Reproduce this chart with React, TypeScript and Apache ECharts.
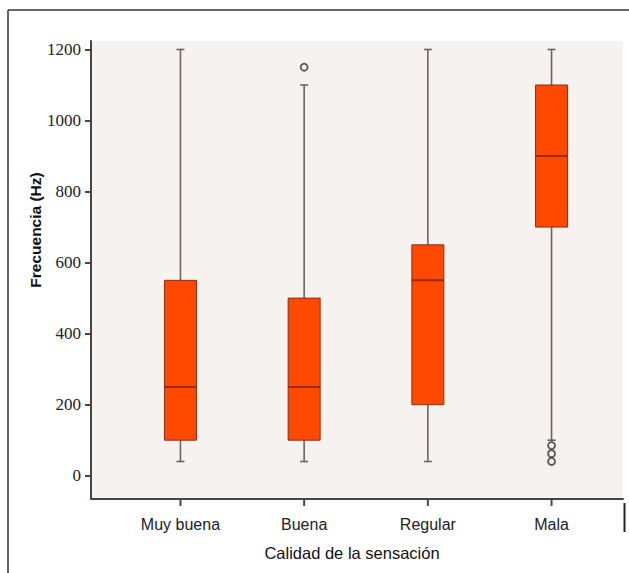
import React, { useEffect, useRef } from "react";
import * as echarts from "echarts";

const categories = ["Muy buena", "Buena", "Regular", "Mala"];
// [min whisker, Q1, median, Q3, max whisker]
const boxValues = [
  [40, 100, 250, 550, 1200],
  [40, 100, 250, 500, 1100],
  [40, 200, 550, 650, 1200],
  [100, 700, 900, 1100, 1200],
];
// [category index, value]
const outliers = [
  [1, 1150],
  [3, 85],
  [3, 62],
  [3, 40],
];
const yTicks = [0, 200, 400, 600, 800, 1000, 1200];
const yMin = -65.6;
const yMax = 1223.9;
const pxPerUnit = 458 / (yMax - yMin);
const tickLen = 7;
const yMinExt = yMin - 12 / pxPerUnit;

export default function App() {
  const ref = useRef<HTMLDivElement>(null);
  useEffect(() => {
    document.body.style.margin = "0";
    const chart = echarts.init(ref.current!, null, { renderer: "svg" });
    const boxData = boxValues.map((v, i) => [i, ...v]);
    const tickData = categories.map((_, i) => [i, yMin]);
    chart.setOption({
      animation: false,
      backgroundColor: "#ffffff",
      grid: [
        {
          left: 91,
          top: 41,
          width: 532,
          height: 458,
          show: true,
          backgroundColor: "#f6f2ef",
          borderWidth: 0,
        },
        { left: 118.6, top: 41, width: 494.8, height: 458 + 12 },
      ],
      xAxis: [
        {
          gridIndex: 0,
          type: "value",
          min: 0,
          max: 1,
          axisLine: { show: true, onZero: false, lineStyle: { color: "#4a4540", width: 2 } },
          axisTick: { show: false },
          axisLabel: { show: false },
          splitLine: { show: false },
        },
        {
          gridIndex: 1,
          type: "category",
          position: "bottom",
          data: categories,
          axisLine: { show: false, onZero: false },
          axisTick: { show: false },
          axisLabel: {
            interval: 0,
            margin: 5,
            fontFamily: "Liberation Sans, Arial, sans-serif",
            fontSize: 16,
            color: "#222222",
          },
        },
      ],
      yAxis: [
        {
          gridIndex: 0,
          type: "value",
          min: yMin,
          max: yMax,
          axisLine: { show: true, onZero: false, lineStyle: { color: "#4a4540", width: 2 } },
          axisTick: {
            show: true,
            length: 6,
            customValues: yTicks,
            lineStyle: { color: "#4a4540", width: 2 },
          },
          axisLabel: {
            customValues: yTicks,
            formatter: (v: number) => String(v),
            margin: 10,
            fontFamily: "Liberation Serif, Times New Roman, serif",
            fontSize: 17,
            color: "#222222",
          },
          splitLine: { show: false },
        },
        {
          gridIndex: 1,
          type: "value",
          min: yMinExt,
          max: yMax,
          show: false,
          splitLine: { show: false },
        },
      ],
      series: [
        {
          type: "custom",
          xAxisIndex: 1,
          yAxisIndex: 1,
          clip: false,
          data: boxData,
          renderItem: (params: any, api: any) => {
            const x = api.value(0);
            const lo = api.coord([x, api.value(1)]);
            const q1 = api.coord([x, api.value(2)]);
            const med = api.coord([x, api.value(3)]);
            const q3 = api.coord([x, api.value(4)]);
            const hi = api.coord([x, api.value(5)]);
            const cx = lo[0];
            const bw = 32;
            const cw = 8;
            const whisker = { stroke: "#6e6559", lineWidth: 1.6 };
            return {
              type: "group",
              children: [
                { type: "line", shape: { x1: cx, y1: hi[1], x2: cx, y2: q3[1] }, style: whisker },
                { type: "line", shape: { x1: cx, y1: lo[1], x2: cx, y2: q1[1] }, style: whisker },
                { type: "line", shape: { x1: cx - cw / 2, y1: hi[1], x2: cx + cw / 2, y2: hi[1] }, style: whisker },
                { type: "line", shape: { x1: cx - cw / 2, y1: lo[1], x2: cx + cw / 2, y2: lo[1] }, style: whisker },
                {
                  type: "rect",
                  shape: { x: cx - bw / 2, y: q3[1], width: bw, height: q1[1] - q3[1] },
                  style: { fill: "#ff4800", stroke: "#8f2c12", lineWidth: 1 },
                },
                {
                  type: "line",
                  shape: { x1: cx - bw / 2, y1: med[1], x2: cx + bw / 2, y2: med[1] },
                  style: { stroke: "#9a2a0c", lineWidth: 2 },
                },
              ],
            };
          },
        },
        {
          type: "scatter",
          xAxisIndex: 1,
          yAxisIndex: 1,
          data: tickData,
          symbol: "rect",
          symbolSize: [2, tickLen],
          symbolOffset: [0, tickLen / 2],
          clip: false,
          silent: true,
          z: 5,
          itemStyle: { color: "#4a4540", opacity: 1 },
        },
        {
          type: "scatter",
          xAxisIndex: 1,
          yAxisIndex: 1,
          data: outliers,
          symbol: "circle",
          symbolSize: 7,
          itemStyle: { color: "rgba(0,0,0,0)", borderColor: "#333333", borderWidth: 1.8 },
        },
      ],
      graphic: [
        { type: "line", shape: { x1: 8, y1: 10, x2: 629, y2: 10 }, style: { stroke: "#333333", lineWidth: 1.5 } },
        { type: "line", shape: { x1: 8, y1: 10, x2: 8, y2: 573 }, style: { stroke: "#333333", lineWidth: 1.5 } },
        { type: "line", shape: { x1: 624.5, y1: 503, x2: 624.5, y2: 532 }, style: { stroke: "#222222", lineWidth: 2 } },
        {
          type: "text",
          x: 35,
          y: 230,
          rotation: Math.PI / 2,
          style: {
            text: "Frecuencia (Hz)",
            fontFamily: "Liberation Sans, Arial, sans-serif",
            fontWeight: "bold",
            fontSize: 15.5,
            fill: "#111111",
            align: "center",
            verticalAlign: "middle",
          },
        },
        {
          type: "text",
          x: 352,
          y: 553,
          style: {
            text: "Calidad de la sensación",
            fontFamily: "Liberation Sans, Arial, sans-serif",
            fontSize: 16.5,
            fill: "#111111",
            align: "center",
            verticalAlign: "middle",
          },
        },
      ],
    });
    return () => chart.dispose();
  }, []);
  return <div ref={ref} style={{ width: 629, height: 573 }} />;
}
